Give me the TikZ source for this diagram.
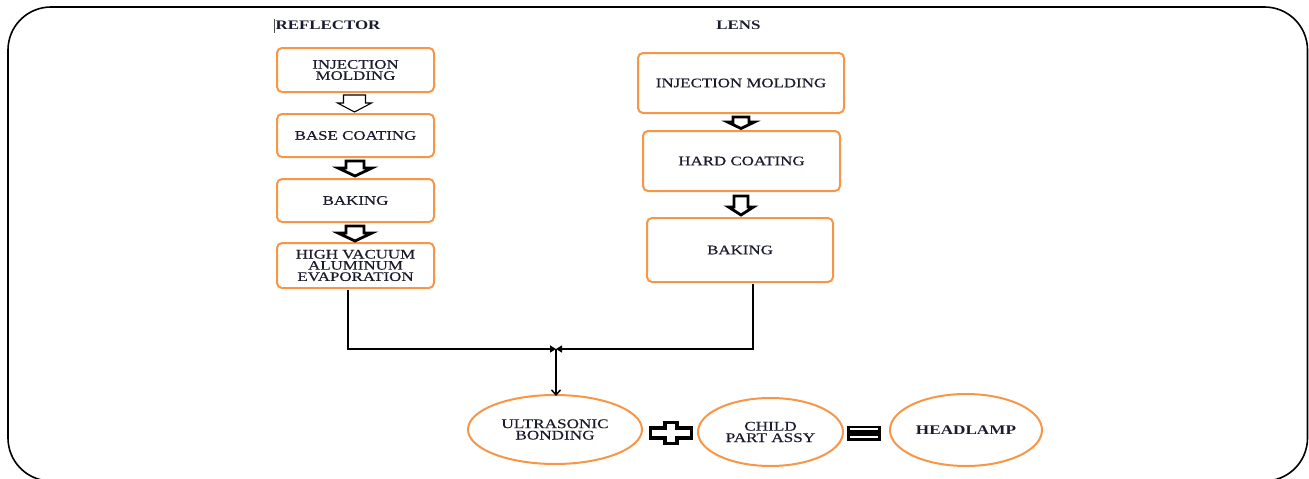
\documentclass[tikz,border=0pt]{standalone}
\usepackage{fontspec}
\setmainfont{Liberation Serif}
\newfontfamily\dfont[FakeStretch=1.3,FakeBold=0.4]{Liberation Serif}
\newfontfamily\bfont[FakeStretch=1.3]{Liberation Serif}
\usetikzlibrary{arrows.meta,shapes.geometric}
\definecolor{boxorange}{HTML}{F79646}
\definecolor{txt}{HTML}{1B1B2F}
\tikzset{
  stepbox/.style={draw=boxorange, line width=2pt, rounded corners=5pt, fill=white,
    inner sep=0pt, align=center, text=txt, font=\dfont\fontsize{13}{11.2}\selectfont},
  oval/.style={ellipse, draw=boxorange, line width=2pt, inner sep=0pt, align=center,
    text=txt, font=\dfont\fontsize{13.2}{11.4}\selectfont},
  title/.style={font=\bfont\bfseries\fontsize{13}{13}\selectfont, text=txt, inner sep=0pt},
  conn/.style={line width=1.5pt, black},
  hollowthin/.style={draw=black, line width=1.1pt, fill=white, line join=miter},
  hollowthick/.style={draw=black, line width=2.8pt, fill=white, line join=miter},
}
% block arrow: #1 style, #2 center x, #3 top y, #4 shaft end y, #5 tip y, #6 shaft half width, #7 head half width
\newcommand\blockarrow[7]{%
  \draw[#1] (#2-#6,#3) -- (#2+#6,#3) -- (#2+#6,#4) -- (#2+#7,#4) -- (#2,#5) -- (#2-#7,#4) -- (#2-#6,#4) -- cycle;}
\begin{document}
\begin{tikzpicture}[x=1pt,y=-1pt]
\useasboundingbox (0,0) rectangle (1309,479);
\clip (0,0) rectangle (1309,479);
% outer frame
\draw[line width=1.6pt, rounded corners=43pt] (8,7) rectangle (1307.5,481);

% titles
\node[title] (rt) at (328,25) {REFLECTOR};
\draw[line width=0.6pt, black!70] (274,19) -- (274,33);
\node[title] (lt) at (738.5,25) {LENS};

% reflector chain
\node[stepbox, minimum width=157pt, minimum height=44pt] (r1) at (355.5,70) {INJECTION\\MOLDING};
\node[stepbox, minimum width=157pt, minimum height=43pt] (r2) at (355.5,135.5) {BASE COATING};
\node[stepbox, minimum width=157pt, minimum height=43pt] (r3) at (355.5,200.5) {BAKING};
\node[stepbox, minimum width=157pt, minimum height=45pt] (r4) at (355.5,265.5) {HIGH VACUUM\\ALUMINUM\\EVAPORATION};

% lens chain
\node[stepbox, minimum width=206pt, minimum height=60pt] (l1) at (741,83) {INJECTION MOLDING};
\node[stepbox, minimum width=197pt, minimum height=60pt] (l2) at (741.5,161) {HARD COATING};
\node[stepbox, minimum width=186pt, minimum height=64pt] (l3) at (740,250) {BAKING};

% hollow block arrows
\blockarrow{hollowthin}{354.5}{95}{103}{112}{11}{17}
\blockarrow{hollowthick}{355}{161}{168}{176}{9}{17}
\blockarrow{hollowthick}{355}{226}{233}{241}{9}{17}
\blockarrow{hollowthick}{741}{117}{122}{128.5}{8}{13.5}
\blockarrow{hollowthick}{741}{196}{207}{215}{7}{12.5}

% result ellipses
\node[oval, minimum width=174pt, minimum height=69pt] (e1) at (555,429.5) {ULTRASONIC\\BONDING};
\node[oval, minimum width=145pt, minimum height=68pt] (e2) at (770.5,432) {CHILD\\PART ASSY};
\node[oval, minimum width=152pt, minimum height=72pt] (e3) at (966,430) {\bfont\bfseries HEADLAMP};

% connectors
\coordinate (ls) at (348,290);
\coordinate (rs) at (753,284);
\coordinate (jn) at (556,349);
\draw[conn, -{Triangle[length=6pt,width=7pt]}] (ls) |- (jn);
\draw[conn, -{Triangle[length=6pt,width=7pt]}] (rs) |- (jn);
\draw[conn, -{Straight Barb[length=5pt,width=9pt]}] (jn) -- ([yshift=-2pt]jn |- e1.north);

% plus sign
\draw[line width=3.2pt, fill=white, line join=miter]
  (650.5,428) -- (665,428) -- (665,422.5) -- (677,422.5) -- (677,428) -- (691.5,428)
  -- (691.5,438) -- (677,438) -- (677,443.5) -- (665,443.5) -- (665,438) -- (650.5,438) -- cycle;
% equals sign
\draw[line width=2.8pt, fill=white] (848.5,427) rectangle (879.5,431.8);
\draw[line width=2.8pt, fill=white] (848.5,434.5) rectangle (879.5,439.3);
\end{tikzpicture}
\end{document}
